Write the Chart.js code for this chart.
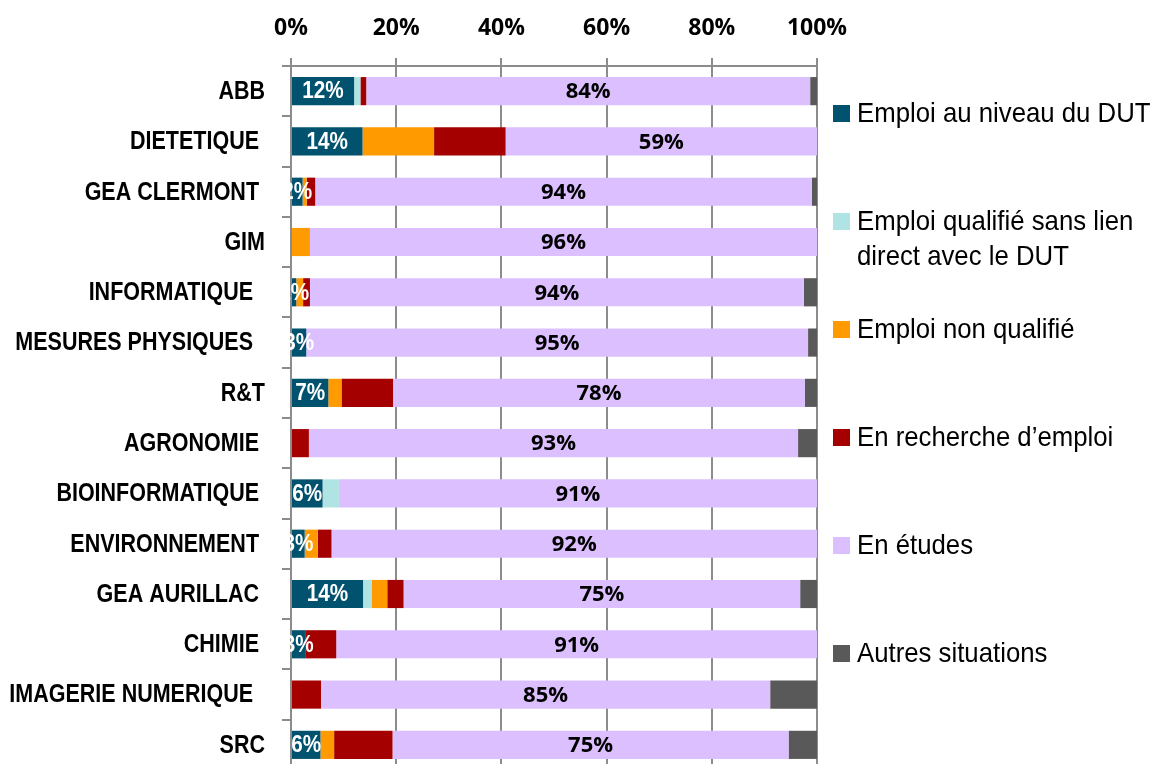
<!DOCTYPE html>
<html>
<head>
<meta charset="utf-8">
<script src="https://cdn.jsdelivr.net/npm/chart.js@4"></script>
<style>
html, body { margin: 0; padding: 0; background: #fff; overflow: hidden; }
canvas { display: block; }
</style>
</head>
<body>
<canvas id="chart" width="1153" height="776" style="width:1153px;height:776px"></canvas>
<script>
// trailing spaces are in the original labels
var categories = ['ABB', 'DIETETIQUE ', 'GEA CLERMONT ', 'GIM', 'INFORMATIQUE  ', 'MESURES PHYSIQUES  ', 'R&T',
    'AGRONOMIE ', 'BIOINFORMATIQUE ', 'ENVIRONNEMENT ', 'GEA AURILLAC ', 'CHIMIE ', 'IMAGERIE NUMERIQUE  ', 'SRC'];

var seriesNames = ['Emploi au niveau du DUT', 'Emploi qualifié sans lien direct avec le DUT', 'Emploi non qualifié',
    'En recherche d’emploi', 'En études', 'Autres situations'];
var seriesColors = ['#00526f', '#b0e3e4', '#ff9a00', '#a40000', '#dcbfff', '#595959'];

var emploiDut         = [12.0, 13.6, 2.2, 0,   1.0, 2.9,  7.1, 0,    6.0, 2.6, 13.7, 2.7, 0,    5.6];
var emploiQualifie    = [1.2,  0,    0,   0,   0,   0,    0,   0,    3.1, 0,   1.6,  0,   0,    0];
var emploiNonQualifie = [0,    13.6, 0.8, 3.6, 1.3, 0,    2.5, 0,    0,   2.5, 3.0,  0,   0,    2.6];
var rechercheEmploi   = [1.1,  13.6, 1.6, 0,   1.3, 0,    9.8, 3.4,  0,   2.6, 3.1,  5.9, 5.7,  11.1];
var enEtudes          = [84.4, 59.2, 94.4, 96.4, 93.9, 95.4, 78.3, 93.0, 90.9, 92.3, 75.4, 91.4, 85.4, 75.3];
var autres            = [1.3,  0,    1.0, 0,   2.5, 1.7,  2.3, 3.6,  0,   0,   3.2,  0,   8.9,  5.4];

var xTicks = [0, 20, 40, 60, 80, 100];

var series = [emploiDut, emploiQualifie, emploiNonQualifie, rechercheEmploi, enEtudes, autres];
var gridGray = '#8c8c8c';

function drawSqueezed(ctx, text, x, y, sx) {
    ctx.save();
    ctx.translate(x, y);
    ctx.scale(sx, 1);
    ctx.fillText(text, 0, 0);
    ctx.restore();
}

// category names, squeezed to look like Arial Narrow (no narrow font installed)
var catLabels = {
    id: 'catLabels',
    afterDraw: function (chart) {
        var ctx = chart.ctx, scale = chart.scales.y;
        ctx.save();
        ctx.font = 'bold 25px "Liberation Sans", Arial, sans-serif';
        ctx.fillStyle = '#000';
        ctx.textAlign = 'right';
        ctx.textBaseline = 'middle';
        chart.data.labels.forEach(function (lab, i) {
            drawSqueezed(ctx, lab, scale.right - 26, scale.getPixelForValue(i) + 1, 0.86);
        });
        ctx.restore();
    }
};

// percentages written inside the teal and lavender bars
var barLabels = {
    id: 'barLabels',
    afterDatasetsDraw: function (chart) {
        var ctx = chart.ctx;
        ctx.save();
        ctx.textAlign = 'center';
        ctx.textBaseline = 'middle';
        [[0, '#ffffff', 'bold 23px "Liberation Sans", sans-serif', 0.9],
         [4, '#000000', 'bold 22px "Open Sans", sans-serif', 1]].forEach(function (cfg) {
            var meta = chart.getDatasetMeta(cfg[0]);
            ctx.fillStyle = cfg[1];
            ctx.font = cfg[2];
            meta.data.forEach(function (bar, i) {
                var v = chart.data.datasets[cfg[0]].data[i];
                if (!v) return;
                var p = bar.getProps(['x', 'base', 'y'], true);
                drawSqueezed(ctx, Math.round(v) + '%', (p.x + p.base) / 2, p.y + 1, cfg[3]);
            });
        });
        ctx.restore();
    }
};

// legend on the right, with wrapped text
var sideLegend = {
    id: 'sideLegend',
    afterDraw: function (chart) {
        var ctx = chart.ctx;
        var x0 = 833, tx = 857, y0 = 113, step = 108, sx = 0.92, maxW = 300;
        ctx.save();
        ctx.font = '28px "Liberation Sans", Arial, sans-serif';
        ctx.textBaseline = 'middle';
        ctx.textAlign = 'left';
        chart.data.datasets.forEach(function (ds, i) {
            var y = y0 + i * step;
            ctx.fillStyle = ds.backgroundColor;
            ctx.fillRect(x0, y - 8, 17, 17);
            // word wrap
            var words = ds.label.split(' '), lines = [], line = '';
            words.forEach(function (w) {
                var test = line ? line + ' ' + w : w;
                if (ctx.measureText(test).width * sx > maxW && line) {
                    lines.push(line);
                    line = w;
                } else {
                    line = test;
                }
            });
            lines.push(line);
            ctx.fillStyle = '#000';
            lines.forEach(function (l, k) {
                drawSqueezed(ctx, l, tx, y + 1 + k * 35, sx);
            });
        });
        ctx.restore();
    }
};

var ctx = document.getElementById('chart').getContext('2d');
new Chart(ctx, {
    type: 'bar',
    data: {
        labels: categories,
        datasets: series.map(function (d, i) {
            return {
                label: seriesNames[i],
                data: d,
                backgroundColor: seriesColors[i],
                borderWidth: 0,
                barPercentage: 0.56,
                categoryPercentage: 1
            };
        })
    },
    options: {
        indexAxis: 'y',
        responsive: false,
        animation: false,
        layout: { padding: { left: 0, top: 0, right: 336, bottom: 6 } },
        plugins: {
            legend: { display: false },
            tooltip: { enabled: false }
        },
        scales: {
            x: {
                position: 'top',
                stacked: true,
                min: 0,
                max: 100,
                afterBuildTicks: function (scale) {
                    scale.ticks = xTicks.map(function (v) { return { value: v }; });
                },
                afterFit: function (scale) { scale.height = 66; },
                grid: { color: gridGray, lineWidth: 2, tickLength: 8 },
                border: { display: true, color: gridGray, width: 2 },
                ticks: {
                    padding: 16,
                    color: '#000',
                    font: { family: '"Open Sans"', size: 23, weight: 'bold' },
                    callback: function (v) { return v + '%'; }
                }
            },
            y: {
                stacked: true,
                afterFit: function (scale) { scale.width = 291; },
                grid: { offset: true, drawOnChartArea: false, color: gridGray, lineWidth: 2, tickLength: 9 },
                border: { display: true, color: gridGray, width: 2 },
                ticks: { display: false }
            }
        }
    },
    plugins: [barLabels, catLabels, sideLegend]
});
</script>
</body>
</html>
